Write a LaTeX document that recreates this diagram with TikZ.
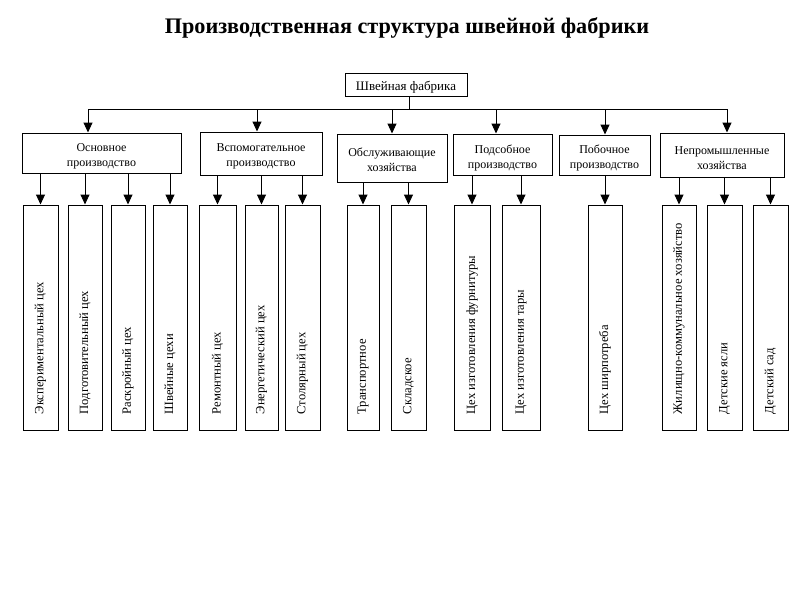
\documentclass[tikz,border=0pt]{standalone}
\usepackage{fontspec}
\setmainfont{Liberation Serif}
\usetikzlibrary{arrows.meta}
\begin{document}
\begin{tikzpicture}[x=1pt,y=-1pt,
 box/.style={draw, line width=1pt, inner sep=0pt},
 boxtext/.style={inner sep=0pt, align=center, font=\fontsize{12}{15}\selectfont},
 leafbox/.style={draw, line width=1pt, inner sep=0pt, minimum height=225pt},
 leaftext/.style={rotate=90, anchor=west, inner sep=0pt, font=\fontsize{12.6}{14}\selectfont},
 arr/.style={line width=1pt, -{Triangle[width=9pt,length=10pt]}},
 ln/.style={line width=1pt}]
\useasboundingbox (0,0) rectangle (800,600);
\node[font=\fontsize{22.2}{26}\selectfont\bfseries] (title) at (407,28) {Производственная структура швейной фабрики};
% root and categories
\node[box, minimum width=122pt, minimum height=23pt] (root) at (406,84.5) {};
\node[box, minimum width=159pt, minimum height=40pt] (c1) at (101.5,153) {};
\node[box, minimum width=122pt, minimum height=43pt] (c2) at (261,153.5) {};
\node[box, minimum width=110pt, minimum height=48pt] (c3) at (392,158) {};
\node[box, minimum width=99pt, minimum height=41pt] (c4) at (502.5,154.5) {};
\node[box, minimum width=91pt, minimum height=40pt] (c5) at (604.5,155) {};
\node[box, minimum width=124pt, minimum height=44pt] (c6) at (722,155) {};
\node[boxtext, font=\fontsize{13}{15}\selectfont] (troot) at ([yshift=-2.5pt]root.center) {Швейная фабрика};
\node[boxtext] (t1) at ([yshift=-3pt]c1.center) {Основное\\производство};
\node[boxtext] (t2) at ([yshift=-3pt]c2.center) {Вспомогательное\\производство};
\node[boxtext] (t3) at ([yshift=-2pt]c3.center) {Обслуживающие\\хозяйства};
\node[boxtext] (t4) at ([yshift=-3pt]c4.center) {Подсобное\\производство};
\node[boxtext] (t5) at ([yshift=-3pt]c5.center) {Побочное\\производство};
\node[boxtext] (t6) at ([yshift=-3pt]c6.center) {Непромышленные\\хозяйства};
% bus
\coordinate (rb) at (409,109);
\coordinate (b1) at (88,109);
\coordinate (b2) at (257,109);
\coordinate (b3) at (392,109);
\coordinate (b4) at (496,109);
\coordinate (b5) at (605,109);
\coordinate (b6) at (727,109);
\draw[ln] (root.south -| rb) -- (rb);
\draw[ln] (b1) -- (b6);
\foreach \i in {1,...,6} {\draw[arr] (b\i) -- (b\i |- c\i.north);}
% leaves
\node[leafbox, minimum width=35pt] (l1) at (40.5,317.5) {};
\node[leafbox, minimum width=34pt] (l2) at (85,317.5) {};
\node[leafbox, minimum width=34pt] (l3) at (128,317.5) {};
\node[leafbox, minimum width=34pt] (l4) at (170,317.5) {};
\node[leafbox, minimum width=37pt] (l5) at (217.5,317.5) {};
\node[leafbox, minimum width=33pt] (l6) at (261.5,317.5) {};
\node[leafbox, minimum width=35pt] (l7) at (302.5,317.5) {};
\node[leafbox, minimum width=32pt] (l8) at (363,317.5) {};
\node[leafbox, minimum width=35pt] (l9) at (408.5,317.5) {};
\node[leafbox, minimum width=36pt] (l10) at (472,317.5) {};
\node[leafbox, minimum width=38pt] (l11) at (521,317.5) {};
\node[leafbox, minimum width=34pt] (l12) at (605,317.5) {};
\node[leafbox, minimum width=34pt] (l13) at (679,317.5) {};
\node[leafbox, minimum width=35pt] (l14) at (724.5,317.5) {};
\node[leafbox, minimum width=35pt] (l15) at (770.5,317.5) {};
\foreach \l/\t in {l1/Экспериментальный цех, l2/Подготовительный цех, l3/Раскройный цех, l4/Швейные цехи, l5/Ремонтный цех, l6/Энергетический цех, l7/Столярный цех, l8/Транспортное, l9/Складское, l10/Цех изготовления фурнитуры, l11/Цех изготовления тары, l12/Цех ширпотреба, l13/Жилищно-коммунальное хозяйство, l14/Детские ясли, l15/Детский сад}
  {\node[leaftext] at ([yshift=16pt]\l.south) {\t};}
% leaf arrows
\foreach \c/\l in {c1/l1, c1/l2, c1/l3, c1/l4, c2/l5, c2/l6, c2/l7, c3/l8, c3/l9, c4/l10, c4/l11, c5/l12, c6/l13, c6/l14, c6/l15}
  {\draw[arr] (\l.north |- \c.south) -- (\l.north);}
\end{tikzpicture}
\end{document}
